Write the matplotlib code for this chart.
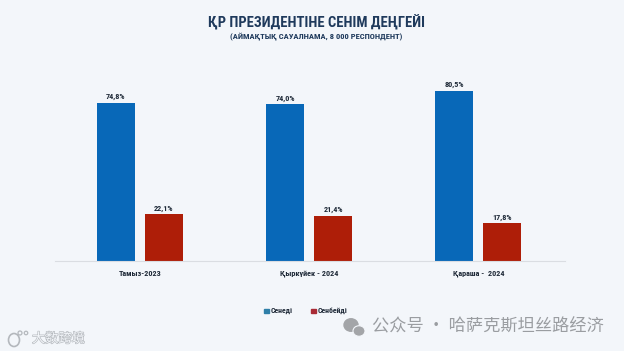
import matplotlib
matplotlib.use("Agg")
import matplotlib.pyplot as plt
import matplotlib.patheffects as pe
from matplotlib.patches import Ellipse, Rectangle
from matplotlib import font_manager as fm

periods = ["Тамыз-2023", "Қыркүйек - 2024", "Қараша -  2024"]
trust = [74.8, 74.0, 80.5]
no_trust = [22.1, 21.4, 17.8]
trust_labels = ["74,8%", "74,0%", "80,5%"]
no_trust_labels = ["22,1%", "21,4%", "17,8%"]
series_names = ["Сенеді", "Сенбейді"]
title = "ҚР ПРЕЗИДЕНТІНЕ СЕНІМ ДЕҢГЕЙІ"
subtitle = "(АЙМАҚТЫҚ САУАЛНАМА, 8 000 РЕСПОНДЕНТ)"

W, H = 624, 351
BG = "#F3F6FA"
BLUE = "#0868B8"
RED = "#AE1E08"
DARK = "#1F2A38"
NAVY = "#1F3A5C"

names = {f.name for f in fm.fontManager.ttflist}
narrow = "Liberation Sans"
for n in ["Roboto Condensed", "Fira Sans Condensed", "Sofia Sans Condensed", "Liberation Sans Narrow"]:
    if n in names:
        narrow = n
        break

fig = plt.figure(figsize=(W / 100, H / 100), dpi=100, facecolor=BG)

# plot area in pixels: x 55-565, baseline y=261, 100% = 211.6 px
ax = fig.add_axes([55 / W, (H - 261) / H, 510 / W, 211.6 / H])
ax.set_facecolor("none")
px = 1 / 169.3  # one pixel in x data units
ax.set_xlim(-(139.7 - 55) * px, (565 - 139.7) * px)
ax.set_ylim(0, 100)

x = range(len(periods))
off = 24 * px
bw = 38 * px
ax.bar([i - off for i in x], trust, bw, color=BLUE)
ax.bar([i + off for i in x], no_trust, bw, color=RED)

for i in x:
    ax.text(i - off, trust[i] + 1.2, trust_labels[i], ha="center", va="bottom",
            fontsize=5.9, fontweight="bold", family=narrow, color=DARK)
    ax.text(i + off, no_trust[i] + 1.2, no_trust_labels[i], ha="center", va="bottom",
            fontsize=5.9, fontweight="bold", family=narrow, color=DARK)

ax.set_xticks(list(x))
ax.set_xticklabels(periods, fontsize=5.9, fontweight="bold", family=narrow, color=DARK)
ax.tick_params(axis="x", length=0, pad=6.5)
ax.set_yticks([])
for s in ["top", "left", "right"]:
    ax.spines[s].set_visible(False)
ax.spines["bottom"].set_color("#DADDE2")
ax.spines["bottom"].set_linewidth(0.8)


def fx(p):
    return p / W


def fy(p):
    return 1 - p / H


fig.text(fx(316), fy(22.5), title, ha="center", va="center", fontsize=10.5,
         fontweight="bold", family=narrow, color=NAVY)
fig.text(fx(316), fy(36), subtitle, ha="center", va="center", fontsize=6.1,
         fontweight="bold", family=narrow, color=NAVY)

# legend
fig.patches.append(Rectangle((fx(264), fy(313)), 4.5 / W, 4.5 / H, color="#2F7FA8", transform=fig.transFigure))
fig.patches.append(Rectangle((fx(311), fy(313)), 4.5 / W, 4.5 / H, color="#A82A35", transform=fig.transFigure))
fig.text(fx(271), fy(310.5), series_names[0], va="center", fontsize=5.6, fontweight="bold",
         family=narrow, color=DARK)
fig.text(fx(318), fy(310.5), series_names[1], va="center", fontsize=5.6, fontweight="bold",
         family=narrow, color=DARK)

# watermarks
fig.text(fx(372), fy(326), "公众号 · 哈萨克斯坦丝路经济", va="center", fontsize=12.4,
         family=["Noto Sans CJK SC", "DejaVu Sans"], color="#9A9DA1")
fig.patches.append(Ellipse((fx(351), fy(325)), 14 / W, 12.5 / H, color="#A3A5A8", transform=fig.transFigure))
fig.patches.append(Ellipse((fx(359), fy(331)), 12 / W, 10.5 / H, color="#A3A5A8", ec=BG, lw=0.8,
                           transform=fig.transFigure))
fig.text(fx(32), fy(339), "大数跨境", va="center", fontsize=9.5,
         family=["Noto Sans CJK SC", "DejaVu Sans"], color="#F3F6FA",
         path_effects=[pe.withStroke(linewidth=0.9, foreground="#B4B8BD")])
fig.patches.append(Ellipse((fx(14), fy(340)), 11 / W, 13 / H, fc="none", ec="#B4B8BD", lw=1.2,
                           transform=fig.transFigure))
fig.patches.append(Ellipse((fx(20), fy(333)), 4 / W, 4 / H, fc="none", ec="#B4B8BD", lw=0.9,
                           transform=fig.transFigure))
fig.patches.append(Ellipse((fx(26), fy(333)), 3.5 / W, 3.5 / H, fc="none", ec="#B4B8BD", lw=0.9,
                           transform=fig.transFigure))

fig.savefig("out.png", dpi=100, facecolor=BG)
